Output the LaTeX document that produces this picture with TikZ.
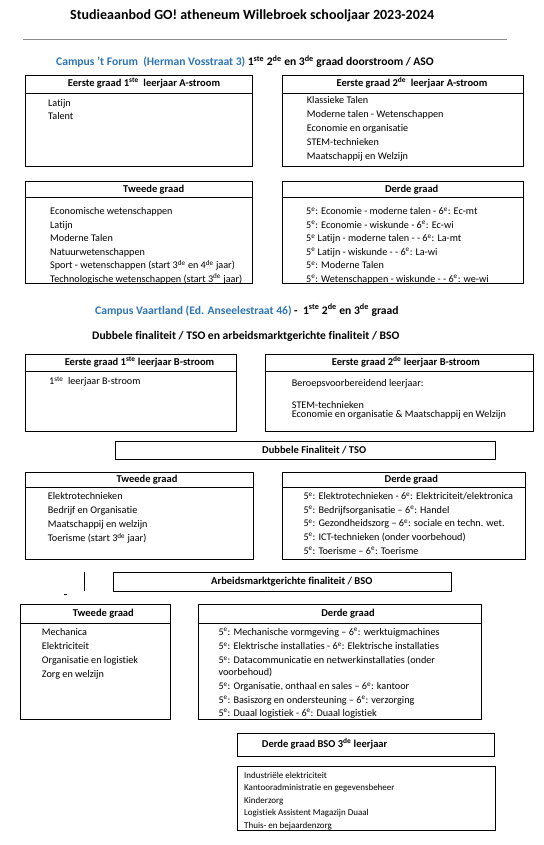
\documentclass[tikz,border=0pt]{standalone}
\usepackage{fontspec}
\setmainfont{Carlito}[Ligatures=NoCommon]
\definecolor{campusblue}{RGB}{46,116,181}
\definecolor{lijngrijs}{RGB}{140,140,140}
\tikzset{
    kader/.style={draw=black, line width=0.8pt},
    kop/.style={
        font=\fontsize{10.5}{12}\selectfont\bfseries,
        text height=7.5pt, text depth=2pt, inner sep=0pt
    },
    item/.style={
        font=\fontsize{10.2}{12}\selectfont, anchor=base west, inner sep=0pt
    },
    klein/.style={
        font=\fontsize{9}{11}\selectfont, anchor=base west, inner sep=0pt
    },
    regel/.style={
        font=\fontsize{11.6}{14}\selectfont\bfseries, anchor=base west, inner sep=0pt
    },
    titel/.style={
        font=\fontsize{14}{17}\selectfont\bfseries, anchor=base west, inner sep=0pt
    }
}
\newcommand\hoog[1]{\textsuperscript{#1}}

\begin{document}
\begin{tikzpicture}[x=1pt,y=-1pt]
\useasboundingbox (0,0) rectangle (543,845);

% --- title and rule ---
    \node[titel] (titel) at (70,19.5) {Studieaanbod GO! atheneum Willebroek schooljaar 2023-2024};
    \draw[lijngrijs, line width=0.8pt] (23,39) -- (507,39);

% --- campus 't Forum ---
    \node[regel] (forum) at (56,65.5) {{\color{campusblue}Campus ’t Forum\ \ (Herman Vosstraat 3)} 1\hoog{ste} 2\hoog{de} en 3\hoog{de} graad doorstroom / ASO};

% eerste graad 1ste leerjaar A
    \draw[kader] (25,75) rectangle (252,166.7);
    \draw[kader] (25,93.3) -- (252,93.3);
    \node[kop] (e1a) at (144,84.2) {Eerste graad 1\hoog{ste}\ \ leerjaar A-stroom};
    \foreach \t [count=\i] in {Latijn, Talent}
        \node[item] (e1a-\i) at (48,{106.3+(\i-1)*13.4}) {\t};

% eerste graad 2de leerjaar A
    \draw[kader] (282.7,75) rectangle (523,166.7);
    \draw[kader] (282.7,93.3) -- (523,93.3);
    \node[kop] (e2a) at (412,84.2) {Eerste graad 2\hoog{de}\ \ leerjaar A-stroom};
    \foreach \t [count=\i] in {Klassieke Talen, Moderne talen - Wetenschappen, Economie en organisatie, STEM-technieken, Maatschappij en Welzijn}
        \node[item] (e2a-\i) at (306.7,{104+(\i-1)*13.9}) {\t};

% tweede graad ASO
    \draw[kader] (25,181.7) rectangle (252,283.3);
    \draw[kader] (25,197.7) -- (252,197.7);
    \node[kop] (tg-aso) at (153.7,189.7) {Tweede graad};
    \foreach \t [count=\i] in {Economische wetenschappen, Latijn, Moderne Talen, Natuurwetenschappen,
            Sport - wetenschappen (start 3\hoog{de} en 4\hoog{de} jaar), Technologische wetenschappen (start 3\hoog{de} jaar)}
        \node[item] (tg-aso-\i) at (50,{214.7+(\i-1)*13.5}) {\t};

% derde graad ASO
    \draw[kader] (282.7,181.7) rectangle (523,283.3);
    \draw[kader] (282.7,197.7) -- (523,197.7);
    \node[kop] (dg-aso) at (411.7,189.7) {Derde graad};
    \foreach \t [count=\i] in {5\hoog{e}: Economie - moderne talen - 6\hoog{e}: Ec-mt, 5\hoog{e}: Economie - wiskunde - 6\hoog{e}: Ec-wi,
            5\hoog{e} Latijn - moderne talen - - 6\hoog{e}: La-mt, 5\hoog{e} Latijn - wiskunde - - 6\hoog{e}: La-wi,
            5\hoog{e}: Moderne Talen, 5\hoog{e}: Wetenschappen - wiskunde - - 6\hoog{e}: we-wi}
        \node[item] (dg-aso-\i) at (306,{214.7+(\i-1)*13.5}) {\t};

% --- campus Vaartland ---
    \node[regel] (vaartland) at (95,314) {{\color{campusblue}Campus Vaartland (Ed. Anseelestraat 46)} -\ \ 1\hoog{ste} 2\hoog{de} en 3\hoog{de} graad};
    \node[regel] (finaliteit) at (92,339) {Dubbele finaliteit / TSO en arbeidsmarktgerichte finaliteit / BSO};

% eerste graad 1ste leerjaar B
    \draw[kader] (25,354.3) rectangle (236.7,431);
    \draw[kader] (25,371.7) -- (236.7,371.7);
    \node[kop] (e1b) at (139.5,363) {Eerste graad 1\hoog{ste} leerjaar B-stroom};
    \node[item] (e1b-1) at (49,384.7) {1\hoog{ste}\ \ leerjaar B-stroom};

% eerste graad 2de leerjaar B
    \draw[kader] (265,354.3) rectangle (533.3,431.7);
    \draw[kader] (265,371.7) -- (533.3,371.7);
    \node[kop] (e2b) at (406,363) {Eerste graad 2\hoog{de} leerjaar B-stroom};
    \node[item] (e2b-1) at (291.7,386.3) {Beroepsvoorbereidend leerjaar:};
    \node[item] (e2b-2) at (291.7,408) {STEM-technieken};
    \node[item] (e2b-3) at (291.7,417.5) {Economie en organisatie \& Maatschappij en Welzijn};

% dubbele finaliteit
    \draw[kader] (115,441.7) rectangle (495,459.3);
    \node[kop, anchor=west] (tso) at (262,450.5) {Dubbele Finaliteit / TSO};

% tweede graad TSO
    \draw[kader] (25.7,472.3) rectangle (253.3,559);
    \draw[kader] (25.7,487.3) -- (253.3,487.3);
    \node[kop] (tg-tso) at (147,480) {Tweede graad};
    \foreach \t [count=\i] in {Elektrotechnieken, Bedrijf en Organisatie, Maatschappij en welzijn, Toerisme (start 3\hoog{de} jaar)}
        \node[item] (tg-tso-\i) at (47.7,{499.7+(\i-1)*14}) {\t};

% derde graad TSO
    \draw[kader] (282.7,472.3) rectangle (525,559.3);
    \draw[kader] (282.7,487.3) -- (525,487.3);
    \node[kop] (dg-tso) at (411.3,480) {Derde graad};
    \foreach \t [count=\i] in {5\hoog{e}: Elektrotechnieken - 6\hoog{e}: Elektriciteit/elektronica, 5\hoog{e}: Bedrijfsorganisatie – 6\hoog{e}: Handel,
            5\hoog{e}: Gezondheidszorg – 6\hoog{e}: sociale en techn. wet., 5\hoog{e}: ICT-technieken (onder voorbehoud),
            5\hoog{e}: Toerisme – 6\hoog{e}: Toerisme}
        \node[item] (dg-tso-\i) at (303.3,{499.7+(\i-1)*13.6}) {\t};

% arbeidsmarktgerichte finaliteit
    \draw[kader] (84.3,572.3) -- (84.3,590.7);
    \draw[line width=0.6pt] (64,594.3) -- (66.5,594.3);
    \draw[kader] (113.3,572.7) rectangle (451.7,591.7);
    \node[kop, anchor=west] (bso) at (211,582.2) {Arbeidsmarktgerichte finaliteit / BSO};

% tweede graad BSO
    \draw[kader] (20.7,604) rectangle (170,719.3);
    \draw[kader] (20.7,623.3) -- (170,623.3);
    \node[kop] (tg-bso) at (103.3,613.5) {Tweede graad};
    \foreach \t [count=\i] in {Mechanica, Elektriciteit, Organisatie en logistiek, Zorg en welzijn}
        \node[item] (tg-bso-\i) at (41.7,{635.3+(\i-1)*13.9}) {\t};

% derde graad BSO
    \draw[kader] (198.3,604) rectangle (481,719.3);
    \draw[kader] (198.3,623.3) -- (481,623.3);
    \node[kop] (dg-bso) at (348,613.5) {Derde graad};
    \node[item] (dg-bso-1) at (218.3,635.3) {5\hoog{e}: Mechanische vormgeving – 6\hoog{e}: werktuigmachines};
    \node[item] (dg-bso-2) at (218.3,649.7) {5\hoog{e}: Elektrische installaties - 6\hoog{e}: Elektrische installaties};
    \node[item] (dg-bso-3) at (218.3,663.7) {5\hoog{e}: Datacommunicatie en netwerkinstallaties (onder};
    \node[item] (dg-bso-4) at (218.3,675.7) {voorbehoud)};
    \node[item] (dg-bso-5) at (218.3,689.7) {5\hoog{e}: Organisatie, onthaal en sales – 6\hoog{e}: kantoor};
    \node[item] (dg-bso-6) at (218.3,703) {5\hoog{e}: Basiszorg en ondersteuning – 6\hoog{e}: verzorging};
    \node[item] (dg-bso-7) at (218.3,716.3) {5\hoog{e}: Duaal logistiek - 6\hoog{e}: Duaal logistiek};

% derde graad BSO 3de leerjaar
    \draw[kader] (237.3,733.3) rectangle (494.3,756);
    \node[kop, anchor=west] (dg3) at (261.7,744.6) {Derde graad BSO 3\hoog{de} leerjaar};
    \draw[kader] (237.3,766.7) rectangle (495.3,830);
    \foreach \t [count=\i] in {Industriële elektriciteit, Kantooradministratie en gegevensbeheer, Kinderzorg,
            Logistiek Assistent Magazijn Duaal, Thuis- en bejaardenzorg}
        \node[klein] (dg3-\i) at (244,{778+(\i-1)*12.5}) {\t};

\end{tikzpicture}
\end{document}
